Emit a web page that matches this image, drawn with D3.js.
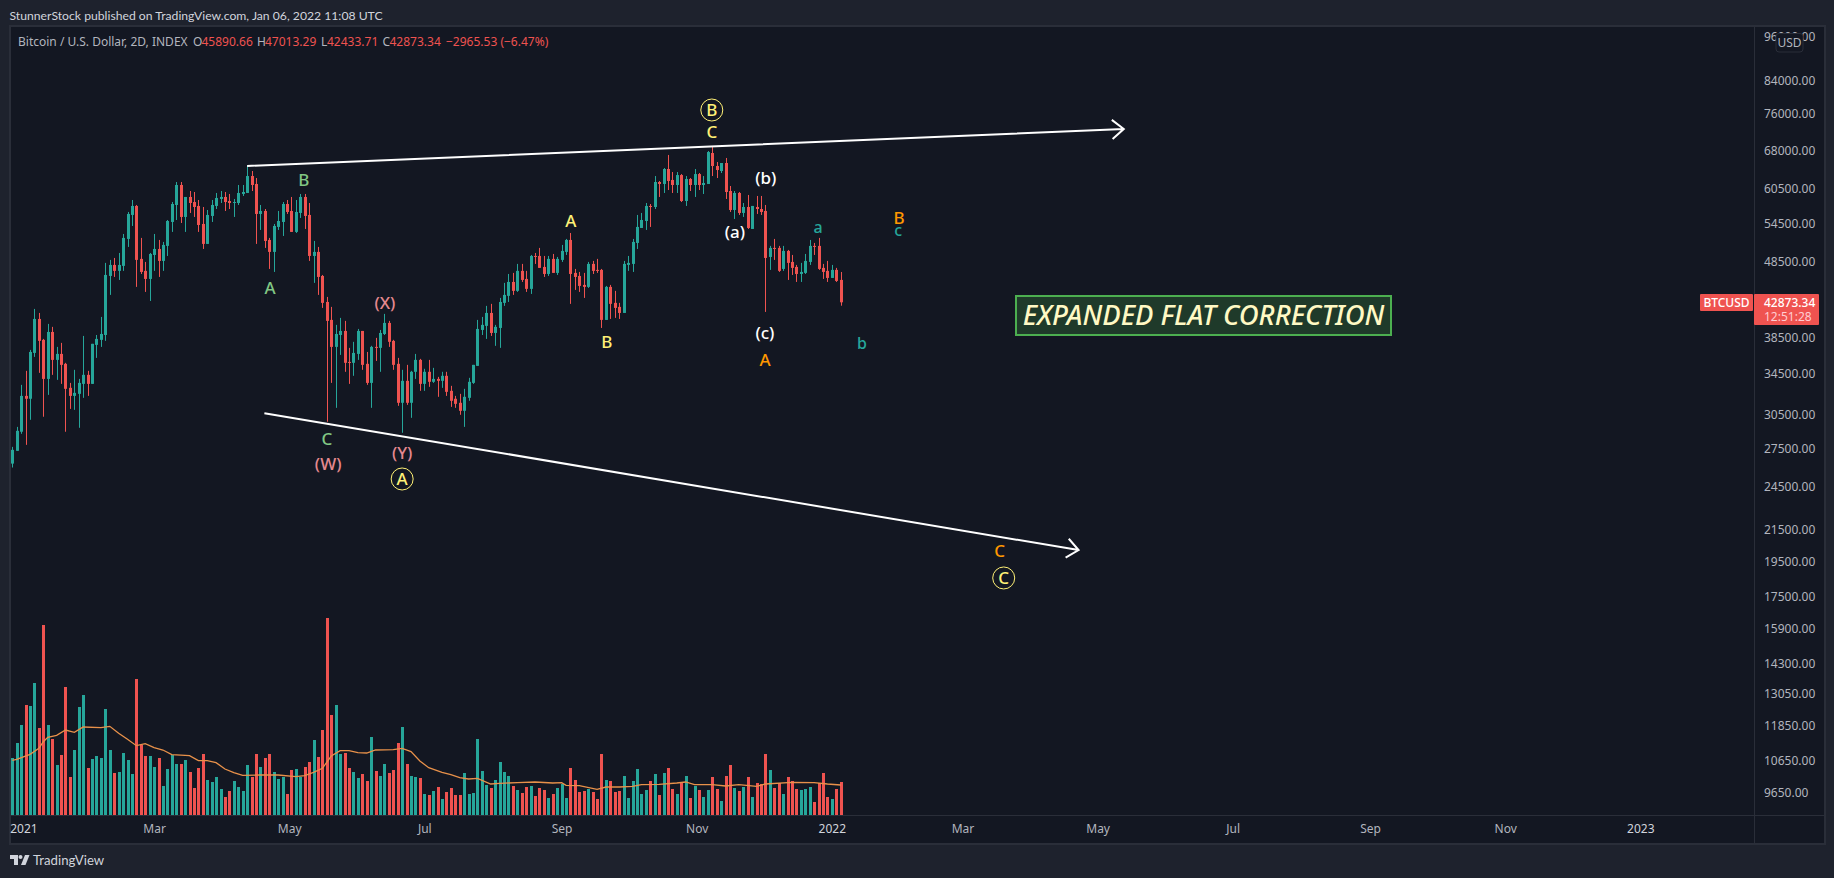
<!DOCTYPE html>
<meta charset="utf-8">
<style>
	html, body { margin: 0; padding: 0; background: #1e222d; overflow: hidden; }
	svg { display: block; }
	text { font-family: "Noto Sans", sans-serif; }
</style>
<body>
<svg id="chart" width="1834" height="878"></svg>
<script src="https://cdnjs.cloudflare.com/ajax/libs/d3/7.8.5/d3.min.js"></script>
<script>
// candles, 2 day bars from 27 Dec 2020
var opens = [
	26260,27300,28930,32260,31980,36760,40760,38250,33970,39180,
	35990,36650,35560,33060,32260,32460,33460,34390,33460,37670,
	38250,38820,46450,48030,47170,47890,51980,55910,57460,48920,
	47170,46030,49510,50420,48620,50890,54730,57630,61240,55570,
	59050,58150,57460,54400,51200,55740,57460,58690,59050,58330,
	57980,57980,59590,59770,62930,61430,56080,56590,51820,49970,
	53910,54730,57800,56590,53100,56250,59050,55910,49360,49970,
	46450,42920,40640,37440,38820,39300,35770,35670,36650,39300,
	35560,33560,37440,37330,38940,40270,38130,35560,31590,33770,
	31590,34710,35990,33460,34710,33670,33970,33770,34290,32760,
	31980,31590,30830,32070,33560,35340,39420,39910,41510,39060,
	39660,42800,43720,45610,44390,47170,46030,44660,49360,49360,
	47740,46730,48920,46880,48770,49970,51820,46880,46450,45200,
	44930,48180,47310,47310,40640,44930,42800,42280,41510,48030,
	48180,51350,53740,54890,57460,57280,61800,61430,64290,62180,
	61240,63120,58330,62370,61240,63310,61240,61430,67490,64880,
	63900,65470,60130,56760,59770,56250,57280,53580,57280,56930,
	56590,49210,50580,50580,47450,50120,48470,47740,46730,46880,
	48470,50890,50890,47600,47170,46170,47310,45890.66];
var highs = [
	27630,29360,33360,34810,37100,42020,41510,38360,40150,39790,
	37440,37900,35670,33560,34920,33970,38710,34810,37790,38820,
	41010,48330,48770,49060,49810,52770,56420,58510,57630,52140,
	48470,49810,52770,51820,51510,55060,58150,61800,61800,59050,
	60130,59950,58510,57280,56760,58510,59770,60130,59950,59590,
	58690,61240,61240,64880,63900,62550,57630,56930,52140,54400,
	56590,58150,58510,59050,58510,59590,59590,57980,51660,50730,
	46590,43580,42280,40030,40890,40520,37330,38020,39540,39300,
	36870,37560,38480,39420,41390,40520,38250,36210,34920,35450,
	34810,36650,36100,35030,35990,35130,34180,34710,34710,33260,
	32260,32460,32960,34080,35450,40640,41010,42410,42670,40030,
	43450,45480,46730,46880,48180,48180,47170,49510,49810,50580,
	49360,49360,49660,49210,51040,51980,52930,47450,47020,46880,
	48470,48620,48920,47450,45060,45200,44390,42800,48620,49360,
	51980,55910,56250,57980,57800,62930,61990,64480,67090,63700,
	63700,63310,62930,62550,64290,63510,62930,67900,68730,65670,
	65470,66480,61050,60130,59950,57980,59410,57460,59230,59230,
	57630,50890,51980,50890,50890,50270,49510,48030,48330,49660,
	51820,51350,52140,48180,48620,48030,47600,47013.29];
var lows = [
	25950,27300,28750,27800,30000,36320,34600,30280,32360,34390,
	33870,33460,28930,31010,30920,29280,32070,32260,33460,36210,
	37440,38130,43850,46310,45890,47170,50730,54070,44930,46730,
	44250,43050,47170,46310,47170,49360,53100,55060,54560,53100,
	56250,55570,53100,50420,51200,54730,56930,57980,56590,56930,
	55570,57630,59230,59770,60130,51200,53420,50580,47450,47020,
	53420,52450,56080,53100,52930,55400,53580,48620,45480,43850,
	42150,29820,33560,31110,36540,34710,33460,34290,35990,34920,
	33360,31110,35880,34710,38820,37440,34920,31300,28840,31390,
	30180,33970,32760,32760,33160,33560,32170,33060,32260,31200,
	31110,30460,29360,31780,33460,35340,38820,38360,38710,37560,
	37330,42410,42920,43850,44250,45610,44250,43980,48180,47600,
	46310,46450,46880,46590,48470,49510,42670,44520,44250,43450,
	44790,46730,46880,39660,40640,40760,40890,40760,41510,47170,
	47020,50420,53740,53420,53910,56930,59050,59770,60310,59770,
	59770,58150,57460,60130,59050,60310,59590,61430,62930,62550,
	63510,58690,56420,55230,55910,55570,53580,53580,56080,55910,
	41640,47310,48770,47020,47170,45890,46590,45610,45610,46730,
	48030,49510,47310,46030,45610,46170,45610,42433.71];
var closes = [
	27380,29010,32260,31980,36870,40760,38130,33970,39180,35990,
	36650,35450,32960,32260,32560,33560,34390,33460,37790,38360,
	38940,46590,48030,47170,48030,52140,56080,57460,48770,47020,
	46030,49660,50420,48620,51040,54890,57800,61240,55570,59050,
	57980,57280,54230,51200,55910,57630,58870,59050,58150,57980,
	58150,59770,59950,62930,61240,56080,56590,51660,49970,54070,
	54890,57800,56420,53100,56420,59050,55740,49360,49970,46310,
	42800,40520,37440,38940,39300,35670,35670,36760,39300,35450,
	33560,37440,37330,39060,40270,38020,35450,31590,33770,31590,
	34710,35990,33460,34710,33670,33970,33770,34290,32660,31780,
	31490,30830,32170,33670,35450,39540,40030,41510,39060,39790,
	42920,43850,45610,44390,47170,45890,44660,49360,49210,47600,
	46730,48920,46880,48920,50120,51820,46730,46310,45060,44930,
	48180,47170,47170,40640,44930,42670,42150,41510,48180,48330,
	51510,53910,55060,57460,57280,61800,61430,64290,61990,61240,
	63120,58330,62370,61240,63310,61240,61610,67690,64880,64090,
	65470,59950,56760,59770,56250,57280,53740,57460,56930,56420,
	49060,50580,50420,47170,50120,48330,47600,46730,47020,48620,
	50890,50730,47450,47020,46170,47310,45750,42873.34];
// volume has no scale in the picture, so these are relative units
var volumes = [
	171,216,270,330,327,396,261,570,270,228,
	150,180,384,114,195,324,360,141,168,177,
	171,318,195,126,129,186,165,123,408,210,
	177,177,144,171,87,138,180,153,153,165,
	129,81,141,183,105,99,114,78,54,72,
	102,84,72,150,114,183,144,171,183,129,
	108,114,63,135,138,114,144,159,225,174,
	255,591,300,330,183,186,141,129,111,123,
	102,234,132,117,153,126,135,216,264,153,
	117,114,111,63,60,72,84,48,69,81,
	60,60,126,63,66,228,132,90,81,105,
	159,129,117,87,75,66,84,87,57,81,
	75,51,63,81,93,51,141,105,69,72,
	78,69,48,183,105,102,69,72,117,51,
	102,138,63,75,102,123,60,126,141,78,
	63,99,117,51,87,75,54,75,114,78,
	42,117,150,81,72,84,114,54,96,93,
	183,135,81,96,63,114,102,78,75,78,
	84,39,96,126,54,48,78,99];
// volume moving average, read at these bars
var maBars = [0,1,4,6,7,8,10,12,14,16,20,22,24,26,28,30,32,34,36,40,42,44,46,48,50,52,56,60,64,66,68,70,72,74,76,78,80,82,86,88,90,92,94,97,99,101,103,105,108,110,114,118,122,124,125,128,132,134,137,140,142,146,150,152,154,158,161,164,168,170,176,181,184,187];
var maValues = [164,167,182,200,220,233,239,255,248,264,262,266,245,227,208,214,202,195,181,178,163,163,157,138,127,119,120,120,115,118,128,140,177,193,193,187,186,195,196,200,190,162,142,128,121,112,108,110,93,95,97,99,96,97,89,88,77,84,84,86,91,92,96,99,91,91,87,91,86,93,98,97,93,90];

var priceTicks = [96000,84000,76000,68000,60500,54500,48500,38500,34500,30500,27500,24500,21500,19500,17500,15900,14300,13050,11850,10650,9650];
var timeTickDates = ["2021-01-01","2021-03-01","2021-05-01","2021-07-01","2021-09-01","2021-11-01","2022-01-01","2022-03-01","2022-05-01","2022-07-01","2022-09-01","2022-11-01","2023-01-01"];
var timeTickLabels = ["2021","Mar","May","Jul","Sep","Nov","2022","Mar","May","Jul","Sep","Nov","2023"];

// wave labels: text, bar number, price, colour, size
var labelTexts  = ["A","B","C","(W)","(X)","(Y)","A","B","C","(a)","(b)","(c)","A","a","b","c","B","C"];
var labelBars   = [58.2,65.8,71,71.3,84.1,88,126.1,134.2,157.9,163.1,170.1,169.9,169.9,181.9,191.8,200,200.2,222.9];
var labelPrices = [44790,62180,28290,26230,42800,27110,54890,38020,71940,53100,62550,39060,35990,53910,37900,53420,55400,20130];
var labelColors = ["#81c784","#81c784","#81c784","#e5898f","#e5898f","#e5898f","#fff176","#fff176","#fff176","#fff","#fff","#fff","#ff9800","#26a69a","#26a69a","#26a69a","#ff9800","#ff9800"];
var circleTexts  = ["A","B","C"];
var circleBars   = [88,157.9,223.8];
var circlePrices = [25060,76910,18550];

// the two trend lines: bar number and price of each end
var lineBars   = [[53,250.9],[56.9,240.7]];
var linePrices = [[64880,72600],[30610,20190]];

var legendParts = [["Bitcoin / U.S. Dollar, 2D, INDEX",18,"#b2b5be"],["O",193,"#b2b5be"],["45890.66",201.5,"#ef5350"],["H",257,"#b2b5be"],["47013.29",265,"#ef5350"],["L",321,"#b2b5be"],["42433.71",327,"#ef5350"],["C",382.5,"#b2b5be"],["42873.34",389.5,"#ef5350"],["\u22122965.53 (\u22126.47%)",446,"#ef5350"]];

var GREEN = "#26a69a", RED = "#ef5350", BORDER = "#2a2e39", PANEL = "#131722";
var left = 11, right = 1824, top_ = 27, bottom = 843, axisX = 1754, axisY = 815;

var svg = d3.select("#chart");

// scales
var start = new Date(Date.UTC(2020, 11, 27));
var x = d3.scaleLinear().domain([0, 187]).range([12.33, 840.7]);
var xTime = d3.scaleUtc().domain([start, d3.utcDay.offset(start, 374)]).range([12.33, 840.7]);
var y = d3.scaleLog().domain([84000, 9650]).range([81, 793]);
var yVol = d3.scaleLinear().domain([0, 600]).range([axisY, axisY - 200]);

// panel
svg.append("rect").attr("x", left - 1).attr("y", top_ - 1).attr("width", right - left + 2).attr("height", bottom - top_ + 2)
	.attr("fill", PANEL).attr("stroke", BORDER).attr("stroke-width", 2);
svg.append("line").attr("x1", axisX + .5).attr("x2", axisX + .5).attr("y1", top_).attr("y2", bottom).attr("stroke", BORDER);
svg.append("line").attr("x1", left).attr("x2", right).attr("y1", axisY + .5).attr("y2", axisY + .5).attr("stroke", BORDER);

// header and footer
svg.append("text").attr("x", 9.5).attr("y", 19.5).attr("fill", "#d1d4dc").attr("font-size", 12.2).style("font-family", "Lato")
	.text("StunnerStock published on TradingView.com, Jan 06, 2022 11:08 UTC");
svg.selectAll(".legend").data(legendParts).enter().append("text").attr("class", "legend")
	.attr("x", function (d) { return d[1]; }).attr("y", 46).attr("fill", function (d) { return d[2]; })
	.attr("font-size", 12).text(function (d) { return d[0]; });

var logo = svg.append("g").attr("transform", "translate(10,855)").attr("fill", "#d1d4dc");
logo.append("path").attr("d", "M0 0h8v10h-4v-6h-4z");
logo.append("circle").attr("cx", 10.5).attr("cy", 2).attr("r", 2);
logo.append("path").attr("d", "M15 0h4.5l-4 10h-4.5z");
svg.append("text").attr("x", 33).attr("y", 865).attr("fill", "#d1d4dc").attr("font-size", 13.2).style("font-family", "Lato").text("TradingView");

// volume
var colorOf = function (i) { return closes[i] >= opens[i] ? GREEN : RED; };
svg.append("g").selectAll("rect").data(volumes).enter().append("rect")
	.attr("x", function (d, i) { return Math.round(x(i)) - 1; })
	.attr("y", function (d) { return yVol(d); })
	.attr("width", 3)
	.attr("height", function (d) { return axisY - yVol(d); })
	.attr("fill", function (d, i) { return colorOf(i); });

var maLine = d3.line().x(function (d) { return x(d); }).y(function (d, i) { return yVol(maValues[i]); });
svg.append("path").attr("d", maLine(maBars)).attr("fill", "none").attr("stroke", "#e8914a").attr("stroke-width", 1.3);

// candles
var candles = svg.append("g").selectAll("g").data(opens).enter().append("g")
	.attr("fill", function (d, i) { return colorOf(i); });
candles.append("rect")
	.attr("x", function (d, i) { return Math.round(x(i)); })
	.attr("y", function (d, i) { return y(highs[i]); })
	.attr("width", 1)
	.attr("height", function (d, i) { return y(lows[i]) - y(highs[i]); });
candles.append("rect")
	.attr("x", function (d, i) { return Math.round(x(i)) - 1; })
	.attr("y", function (d, i) { return Math.min(y(d), y(closes[i])); })
	.attr("width", 3)
	.attr("height", function (d, i) { return Math.max(1, Math.abs(y(d) - y(closes[i]))); });

// trend lines with open arrow heads
lineBars.forEach(function (b, k) {
	var x1 = x(b[0]), y1 = y(linePrices[k][0]), x2 = x(b[1]), y2 = y(linePrices[k][1]);
	var ang = Math.atan2(y2 - y1, x2 - x1), len = 15;
	var head = "M" + (x2 + len * Math.cos(ang + 2.45)) + " " + (y2 + len * Math.sin(ang + 2.45)) +
		"L" + x2 + " " + y2 + "L" + (x2 + len * Math.cos(ang - 2.45)) + " " + (y2 + len * Math.sin(ang - 2.45));
	svg.append("path").attr("d", "M" + x1 + " " + y1 + "L" + x2 + " " + y2 + head)
		.attr("fill", "none").attr("stroke", "#fff").attr("stroke-width", 2);
});

// wave labels
svg.append("g").selectAll("text").data(labelTexts).enter().append("text")
	.attr("x", function (d, i) { return x(labelBars[i]); })
	.attr("y", function (d, i) { return y(labelPrices[i]); })
	.attr("dy", ".36em").attr("text-anchor", "middle")
	.attr("font-size", function (d) { return d >= "a" ? 16 : 17; })
	.attr("font-weight", 500)
	.attr("fill", function (d, i) { return labelColors[i]; })
	.text(function (d) { return d; });
var circled = svg.append("g").selectAll("g").data(circleTexts).enter().append("g")
	.attr("transform", function (d, i) { return "translate(" + x(circleBars[i]) + "," + y(circlePrices[i]) + ")"; });
circled.append("circle").attr("r", 11).attr("fill", "none").attr("stroke", "#fff176").attr("stroke-width", 1);
circled.append("text").attr("dy", ".36em").attr("text-anchor", "middle").attr("font-size", 17).attr("font-weight", 500)
	.attr("fill", "#fff176").text(function (d) { return d; });

// text box
svg.append("rect").attr("x", 1016).attr("y", 296).attr("width", 375).attr("height", 39)
	.attr("fill", "#1f3a2a").attr("stroke", "#4caf50").attr("stroke-width", 2);
svg.append("text").attr("x", 1203.5).attr("y", 325).attr("text-anchor", "middle").attr("font-size", 27.4).attr("font-weight", 500)
	.attr("font-style", "italic").attr("fill", "#fff9c4").text("EXPANDED FLAT CORRECTION");

// axes
var priceAxis = d3.axisRight(y).tickValues(priceTicks).tickSize(0).tickPadding(0).tickFormat(d3.format(".2f"));
var gp = svg.append("g").attr("transform", "translate(1764,0)").call(priceAxis);
gp.select(".domain").remove();
gp.selectAll("text").attr("fill", "#b2b5be").attr("font-size", 12).attr("font-family", "Noto Sans");

var timeAxis = d3.axisBottom(xTime).tickValues(timeTickDates.map(function (d) { return new Date(d + "T00:00:00Z"); }))
	.tickSize(0).tickPadding(0).tickFormat(function (d, i) { return timeTickLabels[i]; });
var gt = svg.append("g").attr("transform", "translate(0," + (axisY + 9) + ")").call(timeAxis);
gt.select(".domain").remove();
gt.selectAll("text").attr("fill", function (d, i) { return timeTickLabels[i].length == 4 ? "#d1d4dc" : "#b2b5be"; })
	.attr("font-size", 12).attr("font-family", "Noto Sans");

// USD button
svg.append("rect").attr("x", 1776).attr("y", 33.5).attr("width", 27).attr("height", 18.5).attr("rx", 3)
	.attr("fill", PANEL).attr("stroke", BORDER);
svg.append("text").attr("x", 1789.5).attr("y", 47).attr("text-anchor", "middle").attr("fill", "#b2b5be").attr("font-size", 12).text("USD");

// last price tags
svg.append("rect").attr("x", 1700).attr("y", 294).attr("width", 53).attr("height", 17).attr("rx", 1).attr("fill", RED);
svg.append("text").attr("x", 1726.5).attr("y", 307).attr("text-anchor", "middle").attr("fill", "#fff").attr("font-size", 12).attr("font-weight", 500).text("BTCUSD");
svg.append("rect").attr("x", 1754).attr("y", 294).attr("width", 65).attr("height", 31).attr("rx", 1).attr("fill", RED);
svg.append("text").attr("x", 1764).attr("y", 307).attr("fill", "#fff").attr("font-size", 12).attr("font-weight", 500).text("42873.34");
svg.append("text").attr("x", 1764).attr("y", 321).attr("fill", "#ffcdd2").attr("font-size", 12).text("12:51:28");
</script>
</body>
